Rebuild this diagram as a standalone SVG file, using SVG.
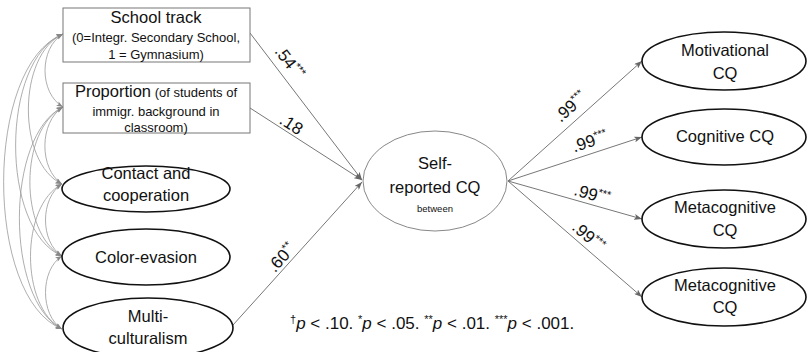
<svg xmlns="http://www.w3.org/2000/svg" width="808" height="352" viewBox="0 0 808 352">
<defs>
<marker id="ah" viewBox="0 0 8 6" refX="8" refY="3" markerWidth="8" markerHeight="6" markerUnits="userSpaceOnUse" orient="auto-start-reverse">
<path d="M0,0 L8,3 L0,6 L2,3 z" fill="#666"/>
</marker>
<marker id="ahs" viewBox="0 0 8 6" refX="8" refY="3" markerWidth="7" markerHeight="5" markerUnits="userSpaceOnUse" orient="auto-start-reverse">
<path d="M0,0 L8,3 L0,6 L2,3 z" fill="#888"/>
</marker>
</defs>
<style>
text{font-family:"Liberation Sans","Open Sans",Arial,sans-serif;fill:#111}
.big{font-size:16.5px}
.sm{font-size:13px}
.tiny{font-size:9.5px}
.lbl{font-size:17px}
.st{font-size:11px}
.box{fill:#fff;stroke:#777;stroke-width:1}
.ell{fill:#fff;stroke:#111;stroke-width:1.6}
.cen{fill:#fff;stroke:#888;stroke-width:1}
.path{fill:none;stroke:#777;stroke-width:1}
.cov{fill:none;stroke:#999;stroke-width:0.8}
</style>
<rect width="808" height="352" fill="#fff"/>

<g id="connectors">
<g id="covariances">
<path class="cov" marker-start="url(#ahs)" marker-end="url(#ahs)" d="M63,34 C39,48 39,93 63,107"/>
<path class="cov" marker-start="url(#ahs)" marker-end="url(#ahs)" d="M63,34 C17,55 17,163 62,184"/>
<path class="cov" marker-start="url(#ahs)" marker-end="url(#ahs)" d="M63,34 C0,60 0,230 62,256"/>
<path class="cov" marker-start="url(#ahs)" marker-end="url(#ahs)" d="M63,34 C-16,65 -16,298 62,329"/>
<path class="cov" marker-start="url(#ahs)" marker-end="url(#ahs)" d="M63,107 C39,122 39,169 62,184"/>
<path class="cov" marker-start="url(#ahs)" marker-end="url(#ahs)" d="M63,107 C19,130 19,233 62,256"/>
<path class="cov" marker-start="url(#ahs)" marker-end="url(#ahs)" d="M63,107 C5,135 5,300 62,329"/>
<path class="cov" marker-start="url(#ahs)" marker-end="url(#ahs)" d="M62,184 C40,198 40,242 62,256"/>
<path class="cov" marker-start="url(#ahs)" marker-end="url(#ahs)" d="M62,184 C20,206 20,307 62,329"/>
<path class="cov" marker-start="url(#ahs)" marker-end="url(#ahs)" d="M62,256 C40,270 40,315 62,329"/>
</g>
<g id="paths">
<line class="path" marker-end="url(#ah)" x1="250" y1="33" x2="362" y2="180"/>
<line class="path" marker-end="url(#ah)" x1="250" y1="108" x2="362" y2="180"/>
<line class="path" marker-end="url(#ah)" x1="233" y1="325" x2="362" y2="182"/>
<line class="path" marker-end="url(#ah)" x1="508" y1="181" x2="642" y2="61"/>
<line class="path" marker-end="url(#ah)" x1="508" y1="181" x2="642" y2="137"/>
<line class="path" marker-end="url(#ah)" x1="508" y1="181" x2="642" y2="219"/>
<line class="path" marker-end="url(#ah)" x1="508" y1="181" x2="642" y2="297"/>
</g>
<g id="labels">
<text class="lbl" transform="translate(289,63) rotate(52.6)" text-anchor="middle" y="5">.54<tspan class="st" dy="-6">***</tspan></text>
<text class="lbl" transform="translate(291,125) rotate(32.9)" text-anchor="middle" y="5">.18</text>
<text class="lbl" transform="translate(282,258) rotate(-48)" text-anchor="middle" y="5">.60<tspan class="st" dy="-6">**</tspan></text>
<text class="lbl" transform="translate(571,107) rotate(-41.8)" text-anchor="middle" y="5">.99<tspan class="st" dy="-6">***</tspan></text>
<text class="lbl" transform="translate(590,142) rotate(-18.2)" text-anchor="middle" y="5">.99<tspan class="st" dy="-6">***</tspan></text>
<text class="lbl" transform="translate(592,195) rotate(15.8)" text-anchor="middle" y="5">.99<tspan class="st" dy="-6">***</tspan></text>
<text class="lbl" transform="translate(588,237) rotate(40.9)" text-anchor="middle" y="5">.99<tspan class="st" dy="-6">***</tspan></text>
</g>
</g>

<g id="school-track">
<rect class="box" x="63" y="8" width="187" height="54"/>
<text class="big" x="156" y="23" text-anchor="middle">School track</text>
<text class="sm" x="156" y="42" text-anchor="middle">(0=Integr. Secondary School,</text>
<text class="sm" x="156" y="59" text-anchor="middle">1 = Gymnasium)</text>
</g>
<g id="proportion">
<rect class="box" x="63" y="83" width="187" height="50"/>
<text x="156" y="97" text-anchor="middle"><tspan class="big">Proportion</tspan><tspan class="sm"> (of students of</tspan></text>
<text class="sm" x="156" y="116" text-anchor="middle">immigr. background in</text>
<text class="sm" x="156" y="132" text-anchor="middle">classroom)</text>
</g>
<g id="contact">
<ellipse class="ell" cx="146" cy="189" rx="84" ry="23"/>
<text class="big" x="146" y="179" text-anchor="middle">Contact and</text>
<text class="big" x="146" y="201" text-anchor="middle">cooperation</text>
</g>
<g id="color-evasion">
<ellipse class="ell" cx="146" cy="257" rx="84" ry="28"/>
<text class="big" x="146" y="263" text-anchor="middle">Color-evasion</text>
</g>
<g id="multiculturalism">
<ellipse class="ell" cx="148" cy="328" rx="85" ry="30"/>
<text class="big" x="148" y="322" text-anchor="middle">Multi-</text>
<text class="big" x="148" y="344" text-anchor="middle">culturalism</text>
</g>
<g id="self-reported">
<ellipse class="cen" cx="435" cy="181" rx="72" ry="50"/>
<text class="big" x="435" y="169" text-anchor="middle">Self-</text>
<text class="big" x="435" y="193" text-anchor="middle">reported CQ</text>
<text class="tiny" x="435" y="212" text-anchor="middle">between</text>
</g>
<g id="motivational">
<ellipse class="ell" cx="724" cy="61" rx="82" ry="29"/>
<text class="big" x="725" y="56" text-anchor="middle">Motivational</text>
<text class="big" x="725" y="79" text-anchor="middle">CQ</text>
</g>
<g id="cognitive">
<ellipse class="ell" cx="724" cy="137" rx="82" ry="28"/>
<text class="big" x="725" y="142" text-anchor="middle">Cognitive CQ</text>
</g>
<g id="metacognitive-1">
<ellipse class="ell" cx="724" cy="219" rx="82" ry="29"/>
<text class="big" x="725" y="213" text-anchor="middle">Metacognitive</text>
<text class="big" x="725" y="236" text-anchor="middle">CQ</text>
</g>
<g id="metacognitive-2">
<ellipse class="ell" cx="724" cy="297" rx="82" ry="29"/>
<text class="big" x="725" y="291" text-anchor="middle">Metacognitive</text>
<text class="big" x="725" y="313" text-anchor="middle">CQ</text>
</g>
<g id="note">
<text class="lbl" x="290" y="329"><tspan class="st" dy="-6">†</tspan><tspan font-style="italic" dy="6">p</tspan> &lt; .10. <tspan class="st" dy="-6">*</tspan><tspan font-style="italic" dy="6">p</tspan> &lt; .05. <tspan class="st" dy="-6">**</tspan><tspan font-style="italic" dy="6">p</tspan> &lt; .01. <tspan class="st" dy="-6">***</tspan><tspan font-style="italic" dy="6">p</tspan> &lt; .001.</text>
</g>
</svg>
